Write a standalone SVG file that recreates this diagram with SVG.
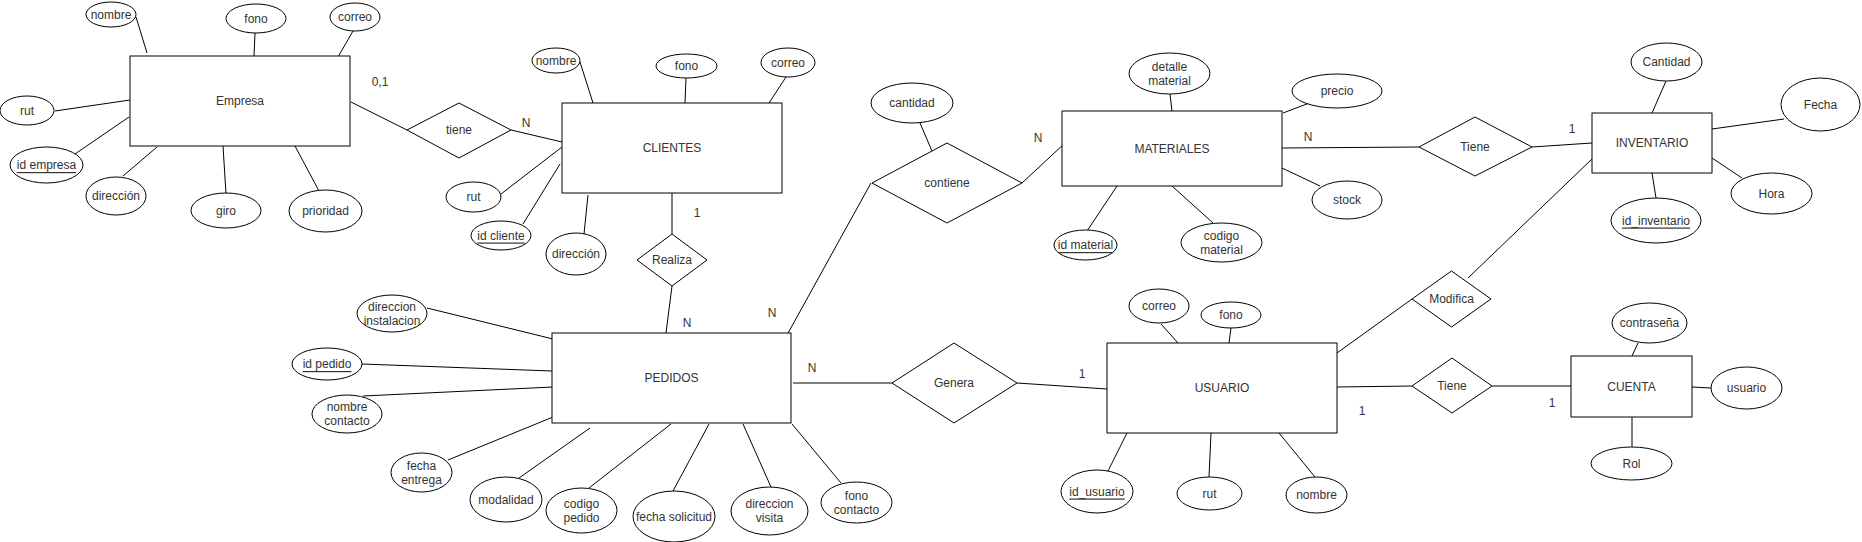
<svg xmlns="http://www.w3.org/2000/svg" width="1862" height="542" viewBox="0 0 1862 542">
<style>
.s{fill:#fff;stroke:#000;stroke-width:1}
.t{font-family:"Liberation Sans",Arial,Helvetica,sans-serif;font-size:12px;fill:#333;text-anchor:middle;dominant-baseline:central}
.u{text-decoration:underline}
.c line{stroke:#000;stroke-width:1;fill:none}
</style>
<rect width="1862" height="542" fill="#fff"/>
<g id="connectors" class="c">
<line x1="136" y1="17" x2="147" y2="53"/>
<line x1="255" y1="33" x2="254" y2="56"/>
<line x1="353" y1="31" x2="338" y2="57"/>
<line x1="55" y1="111" x2="130" y2="100"/>
<line x1="75" y1="154" x2="129" y2="117"/>
<line x1="123" y1="176" x2="157" y2="147"/>
<line x1="226" y1="194" x2="223" y2="146"/>
<line x1="319" y1="191" x2="295" y2="146"/>
<line x1="351" y1="102" x2="407" y2="130"/>
<line x1="511" y1="130" x2="562" y2="142"/>
<line x1="580" y1="62" x2="593" y2="103"/>
<line x1="686" y1="78" x2="685" y2="103"/>
<line x1="786" y1="77" x2="769" y2="103"/>
<line x1="501" y1="194" x2="562" y2="147"/>
<line x1="523" y1="224" x2="560" y2="164"/>
<line x1="584" y1="234" x2="588" y2="195"/>
<line x1="672" y1="193" x2="672" y2="234"/>
<line x1="672" y1="286" x2="666" y2="333"/>
<line x1="427" y1="308" x2="553" y2="339"/>
<line x1="362" y1="364" x2="552" y2="371"/>
<line x1="363" y1="396" x2="553" y2="387"/>
<line x1="448" y1="460" x2="553" y2="417"/>
<line x1="519" y1="478" x2="590" y2="428"/>
<line x1="589" y1="488" x2="671" y2="424"/>
<line x1="673" y1="491" x2="709" y2="424"/>
<line x1="771" y1="487" x2="743" y2="424"/>
<line x1="841" y1="483" x2="792" y2="424"/>
<line x1="920" y1="123" x2="932" y2="151"/>
<line x1="871" y1="183" x2="787" y2="335"/>
<line x1="1022" y1="183" x2="1065" y2="143"/>
<line x1="1170" y1="94" x2="1172" y2="111"/>
<line x1="1312" y1="102" x2="1283" y2="113"/>
<line x1="1320" y1="186" x2="1282" y2="168"/>
<line x1="1087" y1="231" x2="1117" y2="186"/>
<line x1="1213" y1="223" x2="1172" y2="186"/>
<line x1="1282" y1="148" x2="1419" y2="147"/>
<line x1="1532" y1="147" x2="1592" y2="143"/>
<line x1="1666" y1="81" x2="1652" y2="113"/>
<line x1="1784" y1="119" x2="1712" y2="129"/>
<line x1="1742" y1="178" x2="1712" y2="158"/>
<line x1="1656" y1="198" x2="1652" y2="173"/>
<line x1="1592" y1="159" x2="1468" y2="278"/>
<line x1="1412" y1="299" x2="1337" y2="353"/>
<line x1="793" y1="383" x2="892" y2="383"/>
<line x1="1017" y1="383" x2="1107" y2="389"/>
<line x1="1161" y1="324" x2="1178" y2="343"/>
<line x1="1231" y1="328" x2="1229" y2="343"/>
<line x1="1108" y1="471" x2="1127" y2="433"/>
<line x1="1209" y1="477" x2="1211" y2="433"/>
<line x1="1315" y1="477" x2="1279" y2="433"/>
<line x1="1337" y1="387" x2="1412" y2="386"/>
<line x1="1492" y1="386" x2="1571" y2="386"/>
<line x1="1638" y1="343" x2="1632" y2="356"/>
<line x1="1692" y1="387" x2="1711" y2="388"/>
<line x1="1632" y1="417" x2="1632" y2="447"/>
</g>
<g id="cardinalities" class="t">
<text x="380" y="82">0,1</text>
<text x="526" y="123">N</text>
<text x="697" y="213">1</text>
<text x="687" y="323">N</text>
<text x="772" y="313">N</text>
<text x="1038" y="138">N</text>
<text x="1308" y="137">N</text>
<text x="1572" y="129">1</text>
<text x="812" y="368">N</text>
<text x="1082" y="374">1</text>
<text x="1362" y="411">1</text>
<text x="1552" y="403">1</text>
</g>
<g id="empresa">
<rect class="s" x="130" y="56" width="220" height="90"/>
<text class="t" x="240" y="101">Empresa</text>
</g>
<g id="empresa-nombre"><ellipse class="s" cx="111" cy="14.5" rx="25" ry="12.5"/><text class="t" x="111" y="14.5">nombre</text></g>
<g id="empresa-fono"><ellipse class="s" cx="256" cy="18.5" rx="30" ry="14.5"/><text class="t" x="256" y="18.5">fono</text></g>
<g id="empresa-correo"><ellipse class="s" cx="355" cy="17" rx="25" ry="14"/><text class="t" x="355" y="17">correo</text></g>
<g id="empresa-rut"><ellipse class="s" cx="27" cy="110.5" rx="27" ry="14.5"/><text class="t" x="27" y="110.5">rut</text></g>
<g id="empresa-id"><ellipse class="s" cx="46.5" cy="165" rx="36.5" ry="18"/><text class="t u" x="46.5" y="165">id empresa</text></g>
<g id="empresa-direccion"><ellipse class="s" cx="116" cy="196" rx="30" ry="19"/><text class="t" x="116" y="196">dirección</text></g>
<g id="empresa-giro"><ellipse class="s" cx="226" cy="210.5" rx="35" ry="17.5"/><text class="t" x="226" y="210.5">giro</text></g>
<g id="empresa-prioridad"><ellipse class="s" cx="325.5" cy="211" rx="36.5" ry="21"/><text class="t" x="325.5" y="211">prioridad</text></g>
<g id="rel-tiene"><polygon class="s" points="407,130 459,103 511,130 459,158"/><text class="t" x="459" y="130">tiene</text></g>
<g id="clientes">
<rect class="s" x="562" y="103" width="220" height="90"/>
<text class="t" x="672" y="148">CLIENTES</text>
</g>
<g id="clientes-nombre"><ellipse class="s" cx="556" cy="60.5" rx="24" ry="12.5"/><text class="t" x="556" y="60.5">nombre</text></g>
<g id="clientes-fono"><ellipse class="s" cx="686.5" cy="66" rx="30.5" ry="12"/><text class="t" x="686.5" y="66">fono</text></g>
<g id="clientes-correo"><ellipse class="s" cx="788" cy="62.5" rx="27" ry="14.5"/><text class="t" x="788" y="62.5">correo</text></g>
<g id="clientes-rut"><ellipse class="s" cx="473.5" cy="197" rx="27.5" ry="15"/><text class="t" x="473.5" y="197">rut</text></g>
<g id="clientes-id"><ellipse class="s" cx="501" cy="235.5" rx="30" ry="14.5"/><text class="t u" x="501" y="235.5">id cliente</text></g>
<g id="clientes-direccion"><ellipse class="s" cx="576" cy="254" rx="30" ry="21"/><text class="t" x="576" y="254">dirección</text></g>
<g id="rel-realiza"><polygon class="s" points="637,260 672,234 707,260 672,286"/><text class="t" x="672" y="260">Realiza</text></g>
<g id="pedidos">
<rect class="s" x="552" y="333" width="239" height="90"/>
<text class="t" x="671.5" y="378">PEDIDOS</text>
</g>
<g id="pedidos-direccion-instalacion"><ellipse class="s" cx="392" cy="313.5" rx="35" ry="18.5"/><text class="t" x="392" y="306.5">direccion</text><text class="t" x="392" y="320.5">instalacion</text></g>
<g id="pedidos-id"><ellipse class="s" cx="327" cy="364" rx="35" ry="16"/><text class="t u" x="327" y="364">id pedido</text></g>
<g id="pedidos-nombre-contacto"><ellipse class="s" cx="347" cy="414" rx="35" ry="19"/><text class="t" x="347" y="407">nombre</text><text class="t" x="347" y="421">contacto</text></g>
<g id="pedidos-fecha-entrega"><ellipse class="s" cx="421.5" cy="472.5" rx="30.5" ry="19.5"/><text class="t" x="421.5" y="465.5">fecha</text><text class="t" x="421.5" y="479.5">entrega</text></g>
<g id="pedidos-modalidad"><ellipse class="s" cx="506" cy="499.5" rx="36" ry="22.5"/><text class="t" x="506" y="499.5">modalidad</text></g>
<g id="pedidos-codigo"><ellipse class="s" cx="581.5" cy="510.5" rx="35.5" ry="22.5"/><text class="t" x="581.5" y="503.5">codigo</text><text class="t" x="581.5" y="517.5">pedido</text></g>
<g id="pedidos-fecha-solicitud"><ellipse class="s" cx="674" cy="516.5" rx="41" ry="25.5"/><text class="t" x="674" y="516.5">fecha solicitud</text></g>
<g id="pedidos-direccion-visita"><ellipse class="s" cx="769.5" cy="511" rx="38.5" ry="24"/><text class="t" x="769.5" y="504">direccion</text><text class="t" x="769.5" y="518">visita</text></g>
<g id="pedidos-fono-contacto"><ellipse class="s" cx="856.5" cy="502.5" rx="35.5" ry="20.5"/><text class="t" x="856.5" y="495.5">fono</text><text class="t" x="856.5" y="509.5">contacto</text></g>
<g id="rel-contiene"><polygon class="s" points="872,183 947,143 1022,183 947,223"/><text class="t" x="947" y="183">contiene</text></g>
<g id="contiene-cantidad"><ellipse class="s" cx="912" cy="103" rx="41" ry="20"/><text class="t" x="912" y="103">cantidad</text></g>
<g id="materiales">
<rect class="s" x="1062" y="111" width="220" height="75"/>
<text class="t" x="1172" y="148.5">MATERIALES</text>
</g>
<g id="materiales-detalle"><ellipse class="s" cx="1169.5" cy="73.5" rx="40.5" ry="20.5"/><text class="t" x="1169.5" y="66.5">detalle</text><text class="t" x="1169.5" y="80.5">material</text></g>
<g id="materiales-precio"><ellipse class="s" cx="1337" cy="91" rx="45" ry="17"/><text class="t" x="1337" y="91">precio</text></g>
<g id="materiales-stock"><ellipse class="s" cx="1347" cy="200" rx="35" ry="19"/><text class="t" x="1347" y="200">stock</text></g>
<g id="materiales-id"><ellipse class="s" cx="1085.5" cy="245" rx="31.5" ry="15"/><text class="t u" x="1085.5" y="245">id material</text></g>
<g id="materiales-codigo"><ellipse class="s" cx="1221.5" cy="242.5" rx="40.5" ry="19.5"/><text class="t" x="1221.5" y="235.5">codigo</text><text class="t" x="1221.5" y="249.5">material</text></g>
<g id="rel-tiene-inventario"><polygon class="s" points="1419,147 1475,117 1532,147 1475,176"/><text class="t" x="1475" y="147">Tiene</text></g>
<g id="inventario">
<rect class="s" x="1592" y="113" width="120" height="60"/>
<text class="t" x="1652" y="143">INVENTARIO</text>
</g>
<g id="inventario-cantidad"><ellipse class="s" cx="1666.5" cy="62" rx="35.5" ry="19"/><text class="t" x="1666.5" y="62">Cantidad</text></g>
<g id="inventario-fecha"><ellipse class="s" cx="1820.5" cy="104.5" rx="39.5" ry="26.5"/><text class="t" x="1820.5" y="104.5">Fecha</text></g>
<g id="inventario-hora"><ellipse class="s" cx="1771.5" cy="193.5" rx="40.5" ry="20.5"/><text class="t" x="1771.5" y="193.5">Hora</text></g>
<g id="inventario-id"><ellipse class="s" cx="1656" cy="220.5" rx="45" ry="22.5"/><text class="t u" x="1656" y="220.5">id_inventario</text></g>
<g id="rel-modifica"><polygon class="s" points="1412,299 1451.5,271 1491,299 1451.5,327"/><text class="t" x="1451.5" y="299">Modifica</text></g>
<g id="rel-genera"><polygon class="s" points="892,383 954,343 1017,383 954,423"/><text class="t" x="954" y="383">Genera</text></g>
<g id="usuario">
<rect class="s" x="1107" y="343" width="230" height="90"/>
<text class="t" x="1222" y="388">USUARIO</text>
</g>
<g id="usuario-correo"><ellipse class="s" cx="1159" cy="306" rx="30" ry="17"/><text class="t" x="1159" y="306">correo</text></g>
<g id="usuario-fono"><ellipse class="s" cx="1231" cy="315" rx="30" ry="13"/><text class="t" x="1231" y="315">fono</text></g>
<g id="usuario-id"><ellipse class="s" cx="1097" cy="491.5" rx="36" ry="21.5"/><text class="t u" x="1097" y="491.5">id_usuario</text></g>
<g id="usuario-rut"><ellipse class="s" cx="1209.5" cy="493.5" rx="32.5" ry="16.5"/><text class="t" x="1209.5" y="493.5">rut</text></g>
<g id="usuario-nombre"><ellipse class="s" cx="1316.5" cy="495" rx="30.5" ry="18"/><text class="t" x="1316.5" y="495">nombre</text></g>
<g id="rel-tiene-cuenta"><polygon class="s" points="1412,386 1452,358 1492,386 1452,413"/><text class="t" x="1452" y="386">Tiene</text></g>
<g id="cuenta">
<rect class="s" x="1571" y="356" width="121" height="61"/>
<text class="t" x="1631.5" y="386.5">CUENTA</text>
</g>
<g id="cuenta-contrasena"><ellipse class="s" cx="1649.5" cy="323" rx="37.5" ry="20"/><text class="t" x="1649.5" y="323">contraseña</text></g>
<g id="cuenta-usuario"><ellipse class="s" cx="1746.5" cy="388" rx="35.5" ry="21"/><text class="t" x="1746.5" y="388">usuario</text></g>
<g id="cuenta-rol"><ellipse class="s" cx="1631.5" cy="463.5" rx="40.5" ry="16.5"/><text class="t" x="1631.5" y="463.5">Rol</text></g>
</svg>
